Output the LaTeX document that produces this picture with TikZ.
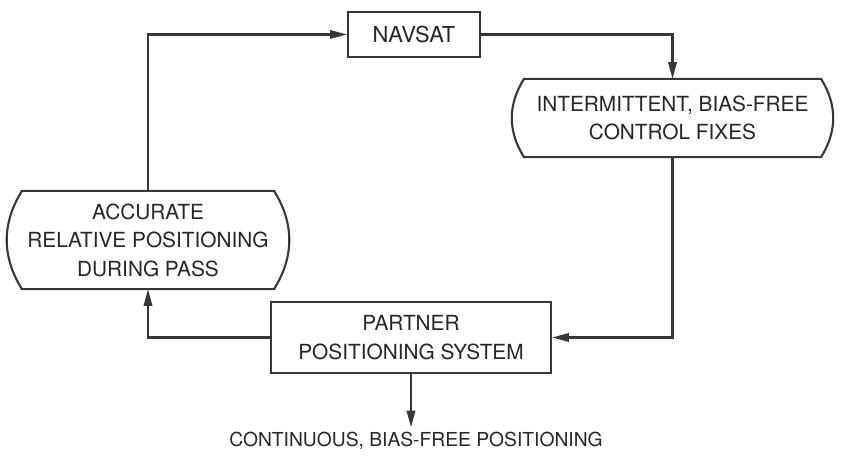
\documentclass[tikz,border=0pt]{standalone}
\usepackage{fontspec}
\setmainfont{TeX Gyre Heros}
\usepackage{tikz}
\usetikzlibrary{positioning,arrows.meta}
\definecolor{ink}{RGB}{55,55,55}
\tikzset{
  frame/.style={draw=ink, line width=1.5pt},
  box/.style={frame, align=center, inner sep=0pt, text=black!85,
              font=\fontsize{14.8}{20.3}\selectfont},
  bulgebox/.style={box, draw=none},
  arrow/.style={-{Triangle[length=0.42cm,width=0.21cm]}, line width=1.5pt, draw=ink},
}
% outline with bowed left and right sides
\newcommand\bulgeframe[1]{%
  \draw[frame] (#1.north west) -- (#1.north east) to[bend left=32] (#1.south east)
    -- (#1.south west) to[bend left=32] cycle;}

\begin{document}
\begin{tikzpicture}[x=0.025cm, y=-0.025cm]
  \useasboundingbox (0,0) rectangle (841,457);
  \node[box, minimum width=3.3cm, minimum height=1.125cm,
        font=\fontsize{15.6}{20}\selectfont]                     (navsat)  at (414,34.5) {NAVSAT};
  \node[bulgebox, minimum width=7.375cm, minimum height=1.9cm]   (fixes)   at (672.5,118) {INTERMITTENT, BIAS-FREE\\CONTROL FIXES};
  \node[bulgebox, minimum width=6.25cm, minimum height=2.4cm]    (relpos)  at (148,240) {ACCURATE\\RELATIVE POSITIONING\\DURING PASS};
  \node[box, minimum width=7cm, minimum height=1.775cm]          (partner) at (411,337.5) {PARTNER\\POSITIONING SYSTEM};
  \node[text=black!85, font=\fontsize{13.7}{16}\selectfont]      (output)  at (416,441) {CONTINUOUS, BIAS-FREE POSITIONING};
  \bulgeframe{fixes}
  \bulgeframe{relpos}
  \draw[arrow] (navsat.east) -| (fixes.north);
  \draw[arrow] (fixes.south) |- (partner.east);
  \draw[arrow] (partner.west) -| (relpos.south);
  \draw[arrow] (relpos.north) |- (navsat.west);
  \draw[arrow] (partner.south) -- (partner.south |- output.north);
\end{tikzpicture}
\end{document}
